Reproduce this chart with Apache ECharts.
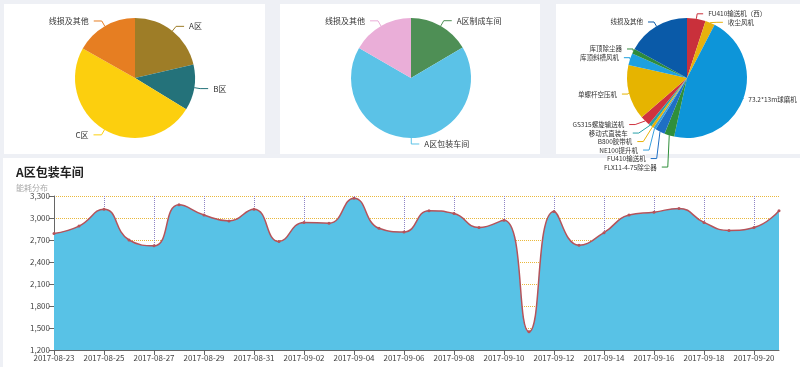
<!DOCTYPE html>
<html><head><meta charset="utf-8">
<script src="https://cdn.jsdelivr.net/npm/echarts@6/dist/echarts.min.js"></script>
<style>
html,body{margin:0;padding:0;background:#eef0f5;width:800px;height:367px;overflow:hidden;}
.p{position:absolute;background:#fff;}
#c{position:absolute;left:0;top:0;width:800px;height:367px;}
</style></head><body>
<div class="p" style="left:4px;top:4px;width:261px;height:150px"></div>
<div class="p" style="left:280px;top:4px;width:260px;height:150px"></div>
<div class="p" style="left:556px;top:4px;width:244px;height:150px"></div>
<div class="p" style="left:3px;top:158px;width:797px;height:209px"></div>
<div id="c"></div>
<script>
const pie1Names = ['A区','B区','C区','线损及其他'];
const pie1Values = [77, 44.5, 178, 60.5];
const pie1Colors = ['#9e7d27','#24727a','#fccf0e','#e67e22'];

const pie2Names = ['A区制成车间','A区包装车间','线损及其他'];
const pie2Values = [59.5, 240.5, 60];
const pie2Colors = ['#4e8f55','#5bc2e7','#eaaed8'];

const pie3Names = ['FU410输送机（西）','收尘风机','73.2*13m球磨机','FLX11-4-75除尘器','FU410输送机','NE100提升机','B800胶带机','移动式直装车','GS315螺旋输送机','单螺杆空压机','库顶斜槽风机','库顶除尘器','线损及其他'];
const pie3Values = [18, 9.4, 165, 9.6, 9.5, 2.5, 2.5, 3, 9.5, 53.4, 11.6, 5, 61];
const pie3Colors = ['#c9303b','#e7b10d','#0d95d9','#2f8f3a','#1f6fc4','#3aa0dc','#e9b308','#26a0a8','#d0323e','#e6b400','#1ea0e0','#2e8b3c','#0a5aa8'];

const dates = ['2017-08-23','2017-08-24','2017-08-25','2017-08-26','2017-08-27','2017-08-28','2017-08-29','2017-08-30','2017-08-31','2017-09-01','2017-09-02','2017-09-03','2017-09-04','2017-09-05','2017-09-06','2017-09-07','2017-09-08','2017-09-09','2017-09-10','2017-09-11','2017-09-12','2017-09-13','2017-09-14','2017-09-15','2017-09-16','2017-09-17','2017-09-18','2017-09-19','2017-09-20','2017-09-21'];
const energy = [2790,2890,3120,2700,2620,3180,3040,2960,3120,2680,2940,2930,3270,2860,2810,3100,3060,2870,2970,1450,3090,2630,2800,3040,3080,3130,2940,2830,2870,3100];

const FONT = '"Noto Sans CJK SC", "Noto Sans", sans-serif';

function mkData(names, values, colors){
  return names.map((n,i)=>({name:n,value:values[i],itemStyle:{color:colors[i]}}));
}
function pieSeries(center, names, values, colors, fs, l1, l2){
  return {
    type:'pie', center:center, radius:60, startAngle:90, clockwise:true,
    data: mkData(names, values, colors),
    label:{fontSize:fs, fontFamily:FONT, overflow:'none'},
    labelLine:{length:l1, length2:l2, lineStyle:{width:1}},
    emphasis:{disabled:true}
  };
}

const s3 = pieSeries([687,78], pie3Names, pie3Values, pie3Colors, 6.5, 5, 6);
s3.data[2].labelLine = {length:2, length2:3};

const chart = echarts.init(document.getElementById('c'), null, {renderer:'canvas'});
chart.setOption({
  animation:false,
  textStyle:{fontFamily:FONT},
  title:{text:'A区包装车间', subtext:'能耗分布', left:11, top:161,
    textStyle:{fontSize:12, fontWeight:'bold', color:'#222', fontFamily:FONT},
    subtextStyle:{fontSize:8, color:'#aaa', fontFamily:FONT}, itemGap:6},
  grid:{left:54, right:21, top:196, bottom:17, containLabel:false},
  xAxis:{type:'category', boundaryGap:false, data:dates,
    axisLine:{lineStyle:{color:'#666'}},
    axisTick:{interval:1, lineStyle:{color:'#666'}},
    axisLabel:{interval:1, fontSize:8, color:'#444', margin:4, fontFamily:FONT},
    splitLine:{show:true, interval:1, lineStyle:{type:'dotted', color:'#8f84c4', width:1}}
  },
  yAxis:{type:'value', min:1200, max:3300, interval:300,
    axisLine:{show:true, lineStyle:{color:'#666'}},
    axisTick:{show:true, lineStyle:{color:'#666'}},
    axisLabel:{fontSize:8, color:'#444', margin:4, fontFamily:FONT,
      formatter:v=>v.toLocaleString('en-US')},
    splitLine:{show:true, lineStyle:{type:'dotted', color:'#eab83c', width:1}}
  },
  series:[
    pieSeries([135,78], pie1Names, pie1Values, pie1Colors, 8, 6, 8),
    pieSeries([411,78], pie2Names, pie2Values, pie2Colors, 8, 6, 8),
    s3,
    {type:'line', data:energy, smooth:true, symbol:'circle', symbolSize:3,
      lineStyle:{color:'#b5535a', width:1.5}, itemStyle:{color:'#b5535a'},
      areaStyle:{color:'#58c2e6', opacity:1}, z:3}
  ]
});
</script></body></html>
